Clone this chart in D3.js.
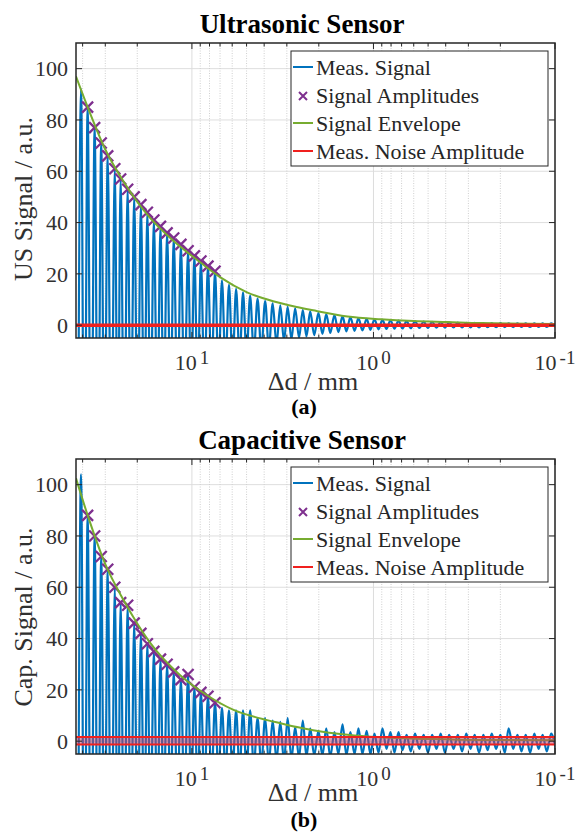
<!DOCTYPE html>
<html>
<head>
<meta charset="utf-8">
<script src="https://cdn.jsdelivr.net/npm/d3@7"></script>
<style>
body { margin: 0; background: #fff; }
text { font-family: "Liberation Serif", "Times New Roman", serif; }
</style>
</head>
<body>
<div id="chart"></div>
<script>
// positions (delta d in mm) of the oscillation maxima and minima
var peakD = [40.8, 37.55, 34.35, 31.6, 29.1, 26.6, 24.7, 22.6, 20.8, 19.1,
    17.6, 16.2, 14.9, 13.7, 12.6, 11.5, 10.5, 9.69, 8.92, 8.16,
    7.46, 6.83, 6.25, 5.71, 5.23, 4.78, 4.35, 3.95, 3.59, 3.26,
    2.97, 2.70, 2.45, 2.23, 2.01, 1.82, 1.64, 1.48, 1.34, 1.21,
    1.09, 0.987, 0.892, 0.806, 0.728, 0.657, 0.590, 0.529, 0.475, 0.426,
    0.383, 0.343, 0.308, 0.277, 0.248, 0.223, 0.200, 0.180, 0.161, 0.145,
    0.130, 0.117, 0.105];
var troughD = [42.6, 39.1, 35.9, 32.9, 30.3, 27.8, 25.6, 23.6, 21.7, 19.9,
    18.3, 16.9, 15.5, 14.3, 13.1, 12.0, 11.0, 10.1, 9.30, 8.53,
    7.80, 7.14, 6.53, 5.97, 5.46, 5.00, 4.56, 4.15, 3.77, 3.42,
    3.11, 2.83, 2.57, 2.34, 2.12, 1.91, 1.73, 1.56, 1.41, 1.27,
    1.15, 1.04, 0.938, 0.848, 0.766, 0.692, 0.623, 0.559, 0.501, 0.450,
    0.404, 0.362, 0.325, 0.292, 0.262, 0.235, 0.211, 0.189, 0.170, 0.153,
    0.137, 0.123, 0.111, 0.099];

// ultrasonic sensor
var usPeakV = [92, 85, 77, 71, 66, 61, 57, 53, 50, 47,
    44, 41, 38.5, 36, 34, 31.5, 29, 27, 25, 23,
    21, 17.5, 15.8, 14.2, 12.8, 11.5, 10.4, 9.4, 8.5, 7.7,
    7.1, 6.6, 6.0, 5.4, 4.8, 4.3, 3.9, 3.5, 3.1, 2.8,
    2.5, 2.3, 2.1, 1.9, 1.75, 1.6, 1.5, 1.4, 1.3, 1.2,
    1.1, 1.0, 0.95, 0.9, 0.85, 0.8, 0.8, 0.75, 0.75, 0.7,
    0.7, 0.7, 0.7];
var usTroughV = [-94, -88, -81, -74, -68, -63, -59, -55, -51, -48,
    -45, -42, -40, -37, -35, -33, -30, -28, -26, -24,
    -22, -19, -16.5, -15, -13.5, -12, -11, -10, -9, -7.5,
    -6.2, -5.5, -4.9, -4.4, -3.9, -3.4, -3.0, -2.7, -2.4, -2.2,
    -2.0, -1.8, -1.6, -1.5, -1.4, -1.3, -1.2, -1.1, -1.05, -1.0,
    -0.95, -0.9, -0.9, -0.85, -0.85, -0.8, -0.8, -0.75, -0.75, -0.7,
    -0.7, -0.7, -0.7, -0.7];
var usAmpD = [37.55, 34.35, 31.6, 29.1, 26.6, 24.7, 22.6, 20.8, 19.1, 17.6,
    16.2, 14.9, 13.7, 12.6, 11.5, 10.5, 9.69, 8.92, 8.16, 7.46];
var usAmpV = [85, 77, 71, 66, 61, 57, 53, 50, 47, 44,
    41, 38.5, 36, 34, 31.5, 29, 27, 25, 23, 21];
var usEnvD = [43.5, 37.5, 30, 23.8, 17.1, 12.7, 9.0, 7.0, 4.97, 3.57, 2.60, 2.15, 1.39, 0.91, 0.60, 0.39, 0.256, 0.1];
var usEnvV = [97, 85, 68.5, 56, 42, 33, 24.5, 18.7, 12.8, 9.3, 7.0, 5.8, 3.4, 2.3, 1.6, 1.2, 0.8, 0.5];
var usNoise = [0.3, -0.3];

// capacitive sensor
var capPeakV = [104, 88, 80, 72, 67, 60, 54, 53, 46, 42,
    38, 35, 32, 30, 27, 24, 26, 21, 19, 17.5,
    15, 13, 12, 12, 12, 12, 9, 9, 8, 7.5,
    9, 5.5, 8, 5, 4, 5, 3.5, 6.6, 3.5, 5,
    4, 3, 5, 3.5, 3.5, 2.5, 3, 2.5, 2.5, 3,
    2.5, 2.5, 3, 2.5, 2.5, 3, 2.5, 5, 2.5, 2.5,
    3, 2.5, 3];
var capTroughV = [-100, -96, -84, -76, -70, -64, -57, -54, -50, -44,
    -40, -36, -33, -31, -28, -25, -25, -23, -20, -18,
    -16, -14, -12.5, -12, -12, -12, -10, -9, -8.5, -7.5,
    -8, -7, -6.5, -6, -5.5, -5.5, -6, -5, -5.5, -5,
    -5, -5, -4.5, -3, -4.5, -3.5, -4, -3, -4.5, -3,
    -4.5, -3, -4, -3, -4.5, -3.5, -3, -4.5, -3, -4,
    -4.5, -3, -4, -3];
var capAmpD = [37.55, 34.35, 31.6, 29.1, 26.6, 24.7, 22.6, 20.8, 19.1, 17.6,
    16.2, 14.9, 13.7, 12.6, 11.5, 10.5, 9.69, 8.92, 8.16, 7.46];
var capAmpV = [88, 80, 72, 67, 60, 54, 53, 46, 42, 38,
    35, 32, 30, 27, 24, 26, 21, 19, 17.5, 15];
var capEnvD = [43.5, 37.5, 30, 23.8, 17.1, 11.65, 8.26, 5.94, 3.85, 3.26, 2.60, 2.15, 1.39, 0.915, 0.484, 0.256, 0.1];
var capEnvV = [102.5, 88, 69, 55, 38.6, 25.8, 17.9, 12.3, 8.2, 7.0, 5.4, 4.3, 2.5, 1.5, 0.8, 0.45, 0.4];
var capNoise = [1.6, -1.3];

var yTicks = [0, 20, 40, 60, 80, 100];
var legendLabels = ["Meas. Signal", "Signal Amplitudes", "Signal Envelope", "Meas. Noise Amplitude"];

var blue = "#0072BD", purple = "#7E2F8E", green = "#77AC30", red = "#F0201E", ink = "#303030";
var left = 76, right = 555, plotH = 295;

var svg = d3.select("#chart").append("svg")
    .attr("width", 576)
    .attr("height", 834);

var crossPath = function (s) {
    return "M" + (-s) + "," + (-s) + "L" + s + "," + s + "M" + (-s) + "," + s + "L" + s + "," + (-s);
};

function drawPanel(p) {
    var x = d3.scaleLog().domain([43.5, 0.1]).range([left, right]);
    var y = d3.scaleLinear().domain([-5, 110]).range([p.top + plotH, p.top]);
    var bottom = p.top + plotH;

    svg.append("clipPath").attr("id", "clip" + p.id)
        .append("rect")
        .attr("x", left).attr("y", p.top)
        .attr("width", right - left).attr("height", plotH);

    var xt = x.ticks();
    var isMajor = function (d) { return Math.abs(Math.log10(d) - Math.round(Math.log10(d))) < 1e-6; };

    // grid
    var grid = svg.append("g");
    grid.selectAll(".hg").data(yTicks).enter().append("line")
        .attr("x1", left).attr("x2", right)
        .attr("y1", function (d) { return y(d); }).attr("y2", function (d) { return y(d); })
        .attr("stroke", "#dedede").attr("stroke-width", 1);
    grid.selectAll(".vg").data(xt).enter().append("line")
        .attr("x1", function (d) { return x(d); }).attr("x2", function (d) { return x(d); })
        .attr("y1", p.top).attr("y2", bottom)
        .attr("stroke", function (d) { return isMajor(d) ? "#dcdcdc" : "#cfcfcf"; })
        .attr("stroke-width", 1)
        .attr("stroke-dasharray", function (d) { return isMajor(d) ? null : "1,1.5"; });

    var plot = svg.append("g").attr("clip-path", "url(#clip" + p.id + ")");

    // measured signal
    var pts = [];
    troughD.forEach(function (d, i) {
        pts.push([d, p.troughV[i]]);
        if (i < peakD.length) pts.push([peakD[i], p.peakV[i]]);
    });
    var line = d3.line()
        .x(function (d) { return x(d[0]); })
        .y(function (d) { return y(d[1]); })
        .curve(d3.curveMonotoneX);
    plot.append("path").datum(pts)
        .attr("d", line)
        .attr("fill", "none").attr("stroke", blue).attr("stroke-width", 2.2);

    // amplitudes
    plot.selectAll(".amp").data(p.ampD).enter().append("path")
        .attr("transform", function (d, i) { return "translate(" + x(d) + "," + y(p.ampV[i]) + ")"; })
        .attr("d", crossPath(5.5))
        .attr("stroke", purple).attr("stroke-width", 2.3).attr("fill", "none");

    // envelope
    var env = p.envD.map(function (d, i) { return [d, p.envV[i]]; });
    plot.append("path").datum(env)
        .attr("d", line)
        .attr("fill", "none").attr("stroke", green).attr("stroke-width", 2);

    // noise amplitude
    plot.append("rect")
        .attr("x", left).attr("width", right - left)
        .attr("y", y(p.noise[0])).attr("height", y(p.noise[1]) - y(p.noise[0]))
        .attr("fill", "#c83c64").attr("fill-opacity", 0.5);
    plot.selectAll(".noise").data(p.noise).enter().append("line")
        .attr("x1", left).attr("x2", right)
        .attr("y1", function (d) { return y(d); }).attr("y2", function (d) { return y(d); })
        .attr("stroke", red).attr("stroke-width", 2);

    // box and ticks
    var axes = svg.append("g").attr("stroke", "#262626");
    axes.append("rect")
        .attr("x", left).attr("y", p.top)
        .attr("width", right - left).attr("height", plotH)
        .attr("fill", "none").attr("stroke-width", 1.5);
    yTicks.forEach(function (d) {
        axes.append("line").attr("x1", left).attr("x2", left + 6).attr("y1", y(d)).attr("y2", y(d));
        axes.append("line").attr("x1", right - 6).attr("x2", right).attr("y1", y(d)).attr("y2", y(d));
    });
    xt.forEach(function (d) {
        var len = isMajor(d) ? 6 : 3.5;
        axes.append("line").attr("x1", x(d)).attr("x2", x(d)).attr("y1", bottom).attr("y2", bottom - len);
        axes.append("line").attr("x1", x(d)).attr("x2", x(d)).attr("y1", p.top).attr("y2", p.top + len);
    });

    // tick labels
    svg.append("g").selectAll("text").data(yTicks).enter().append("text")
        .attr("x", left - 8).attr("y", function (d) { return y(d); })
        .attr("dy", "0.35em")
        .attr("text-anchor", "end")
        .attr("font-size", 22).attr("fill", ink)
        .text(function (d) { return d; });
    var xl = svg.append("g").selectAll("text").data(xt.filter(isMajor)).enter().append("text")
        .attr("x", function (d) { return x(d); })
        .attr("y", bottom + 32)
        .attr("text-anchor", "middle")
        .attr("font-size", 22).attr("fill", ink);
    xl.append("tspan").text("10");
    xl.append("tspan")
        .attr("dx", 3).attr("dy", -6).attr("font-size", 19)
        .text(function (d) { return String(Math.round(Math.log10(d))); });

    // labels
    svg.append("text")
        .attr("x", 313).attr("y", bottom + p.xlabOff)
        .attr("text-anchor", "middle").attr("font-size", 26).attr("fill", ink)
        .text("\u0394d / mm");
    svg.append("text")
        .attr("transform", "translate(32," + p.ylabY + ") rotate(-90)")
        .attr("text-anchor", "middle").attr("font-size", 26).attr("fill", ink)
        .text(p.ylabel);
    svg.append("text")
        .attr("x", 302).attr("y", p.top - 10)
        .attr("text-anchor", "middle").attr("font-size", 27).attr("font-weight", "bold").attr("fill", "#000")
        .text(p.title);
    svg.append("text")
        .attr("x", 304).attr("y", bottom + p.tagOff)
        .attr("text-anchor", "middle").attr("font-size", 22).attr("font-weight", "bold").attr("fill", "#000")
        .text(p.tag);

    // legend
    var lg = svg.append("g").attr("transform", "translate(291," + (p.top + 8) + ")");
    lg.append("rect")
        .attr("width", 257).attr("height", 115)
        .attr("fill", "#fff").attr("stroke", "#262626").attr("stroke-width", 1);
    var rows = lg.selectAll(".row").data(legendLabels).enter().append("g")
        .attr("transform", function (d, i) { return "translate(0," + (24 + i * 28) + ")"; });
    rows.append("text")
        .attr("x", 25).attr("y", 0)
        .attr("font-size", 22).attr("fill", "#262626")
        .text(function (d) { return d; });
    var sym = [blue, null, green, red];
    rows.filter(function (d, i) { return sym[i]; }).append("line")
        .attr("x1", 2).attr("x2", 22).attr("y1", -8).attr("y2", -8)
        .attr("stroke", function (d) { return sym[legendLabels.indexOf(d)]; })
        .attr("stroke-width", 2);
    rows.filter(function (d, i) { return i === 1; }).append("path")
        .attr("transform", "translate(12,-7)")
        .attr("d", crossPath(4))
        .attr("stroke", purple).attr("stroke-width", 2).attr("fill", "none");
}

drawPanel({
    id: "a", top: 43, title: "Ultrasonic Sensor", ylabel: "US Signal / a.u.", tag: "(a)",
    ylabY: 199, xlabOff: 52, tagOff: 76,
    peakV: usPeakV, troughV: usTroughV, ampD: usAmpD, ampV: usAmpV,
    envD: usEnvD, envV: usEnvV, noise: usNoise
});
drawPanel({
    id: "b", top: 459, title: "Capacitive Sensor", ylabel: "Cap. Signal / a.u.", tag: "(b)",
    ylabY: 617, xlabOff: 47, tagOff: 73,
    peakV: capPeakV, troughV: capTroughV, ampD: capAmpD, ampV: capAmpV,
    envD: capEnvD, envV: capEnvV, noise: capNoise
});
</script>
</body>
</html>
